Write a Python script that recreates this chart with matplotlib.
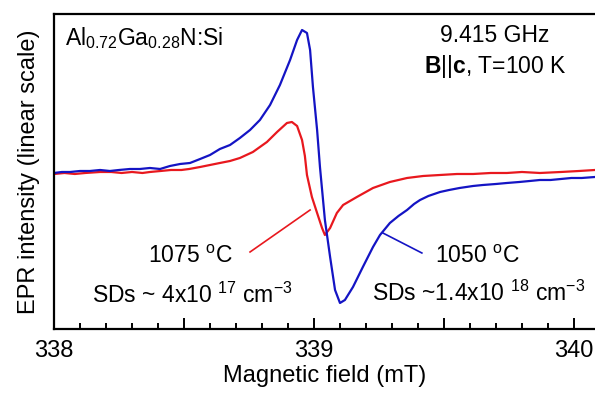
import matplotlib
matplotlib.use("Agg")
import matplotlib.pyplot as plt
from matplotlib.ticker import MultipleLocator, FuncFormatter

plt.rcParams['font.family'] = ['Liberation Sans', 'DejaVu Sans']
plt.rcParams['mathtext.fontset'] = 'custom'
plt.rcParams['mathtext.rm'] = 'Liberation Sans'
plt.rcParams['mathtext.it'] = 'Liberation Sans:italic'
plt.rcParams['mathtext.bf'] = 'Liberation Sans:bold'

# EPR spectra (field in mT, intensity in arbitrary units)
field_1050 = [338.000, 338.030, 338.062, 338.100, 338.138, 338.177, 338.215, 338.250,
              338.292, 338.330, 338.369, 338.408, 338.446, 338.485, 338.523, 338.562,
              338.600, 338.638, 338.677, 338.715, 338.754, 338.792, 338.831, 338.869,
              338.908, 338.935, 338.954, 338.973, 338.985, 338.996, 339.012, 339.023,
              339.042, 339.062, 339.081, 339.100, 339.119, 339.150, 339.188, 339.227,
              339.254, 339.292, 339.325, 339.358, 339.385, 339.408, 339.440, 339.485,
              339.520, 339.560, 339.612, 339.650, 339.700, 339.742, 339.790, 339.830,
              339.869, 339.910, 339.950, 339.990, 340.030, 340.081]
eprs_1050 = [0, 1, 1, 2, 2, 3, 2, 3,
             4, 4, 5, 4, 7, 9, 10, 14,
             18, 24, 28, 35, 43, 53, 68, 88,
             113, 133, 143, 140, 123, 86, 43, 6,
             -47, -84, -117, -130, -127, -114, -94, -74,
             -62, -50, -43, -37, -31, -27, -23, -19,
             -17, -15, -13, -12, -11, -10, -9, -8,
             -7, -7, -6, -5, -5, -4]

field_1075 = [338.000, 338.040, 338.080, 338.120, 338.177, 338.220, 338.260, 338.300,
              338.340, 338.369, 338.410, 338.450, 338.490, 338.520, 338.562, 338.600,
              338.638, 338.677, 338.715, 338.765, 338.819, 338.858, 338.896, 338.915,
              338.935, 338.954, 338.965, 338.973, 338.992, 339.012, 339.031, 339.042,
              339.062, 339.088, 339.112, 339.165, 339.227, 339.292, 339.358, 339.420,
              339.485, 339.550, 339.612, 339.680, 339.742, 339.800, 339.869, 339.950,
              340.020, 340.081]
eprs_1075 = [-1, 0, -1, 0, 1, 1, 0, 1,
             0, 1, 2, 3, 3, 4, 6, 8,
             10, 12, 15, 21, 31, 41, 50, 51,
             47, 33, 17, -2, -24, -40, -55, -62,
             -55, -40, -32, -24, -15, -9, -5, -3,
             -2, -1, -1, 0, 0, 1, 0, 1,
             2, 3]

x_ticks = [338, 339, 340]
blue = '#1414c4'
red = '#e8181e'

fig = plt.figure(figsize=(5.95, 3.94), dpi=100)
ax = fig.add_axes([0.0908, 0.165, 0.9092, 0.7995])

ax.plot(field_1075, eprs_1075, color=red, lw=1.6)
ax.plot(field_1050, eprs_1050, color=blue, lw=1.6)

# leader lines for the labels
ax.plot([338.754, 338.985], [-79, -37], color=red, lw=1.2)
ax.plot([339.265, 339.415], [-60, -80], color=blue, lw=1.2)

ax.set_xlim(338, 340.081)
ax.set_ylim(-156, 159)
ax.xaxis.set_major_locator(MultipleLocator(0.5))
ax.xaxis.set_minor_locator(MultipleLocator(0.1))
ax.xaxis.set_major_formatter(FuncFormatter(
    lambda v, pos: '%d' % round(v) if round(v) in x_ticks and abs(v - round(v)) < 1e-6 else ''))
ax.set_yticks([])

for s in ['left', 'bottom', 'top']:
    ax.spines[s].set_linewidth(1.6)
ax.spines['right'].set_visible(False)

ax.tick_params(axis='x', which='major', direction='in', length=8, width=1.4,
               labelsize=17, pad=8)
ax.tick_params(axis='x', which='minor', direction='in', length=4.5, width=1.4)

ax.set_xlabel('Magnetic field (mT)', fontsize=17, labelpad=2)
ax.set_ylabel('EPR intensity (linear scale)', fontsize=17, labelpad=10)

ax.text(0.02, 0.925, r'Al$_{\mathregular{0.72}}$Ga$_{\mathregular{0.28}}$N:Si',
        transform=ax.transAxes, fontsize=16.5, ha='left', va='center')
ax.text(0.815, 0.933, '9.415 GHz', transform=ax.transAxes, fontsize=16.5,
        ha='center', va='center')
ax.text(0.815, 0.832, r'$\mathbf{B}$||$\mathbf{c}$, T=100 K', transform=ax.transAxes,
        fontsize=16.5, ha='center', va='center')

ax.text(338.523, -84, r'1075 $\mathregular{^o}$C', fontsize=16.5, ha='center', va='center')
ax.text(338.531, -122, r'SDs ~ 4x10 $\mathregular{^{17}}$ cm$\mathregular{^{-3}}$',
        fontsize=16.5, ha='center', va='center')
ax.text(339.627, -84, r'1050 $\mathregular{^o}$C', fontsize=16.5, ha='center', va='center')
ax.text(339.635, -120, r'SDs ~1.4x10 $\mathregular{^{18}}$ cm$\mathregular{^{-3}}$',
        fontsize=16.5, ha='center', va='center')

fig.savefig('out.png', dpi=100)
